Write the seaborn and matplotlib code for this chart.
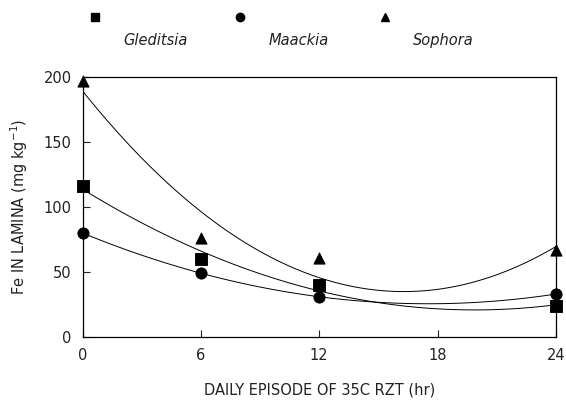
import pandas as pd
import matplotlib.pyplot as plt
from matplotlib.lines import Line2D
import seaborn as sns

hours = [0, 6, 12, 24]
gleditsia = [116, 60, 40, 24]
maackia = [80, 49, 31, 33]
sophora = [197, 76, 61, 67]

species = ['Gleditsia', 'Maackia', 'Sophora']
markers = ['s', 'o', '^']
values = [gleditsia, maackia, sophora]

df = pd.concat([pd.DataFrame({'hr': hours, 'fe': v, 'species': s})
                for s, v in zip(species, values)], ignore_index=True)

sns.set_style('ticks')
plt.rcParams['font.family'] = ['DejaVu Sans']

fig = plt.figure(figsize=(5.66, 4.04), dpi=100)
ax = fig.add_axes([0.146, 0.166, 0.836, 0.643])

for s, m in zip(species, markers):
    sub = df[df['species'] == s]
    sns.regplot(data=sub, x='hr', y='fe', order=2, ci=None, ax=ax,
                scatter=False, truncate=True,
                line_kws={'color': 'black', 'lw': 0.7})
    sns.scatterplot(data=sub, x='hr', y='fe', marker=m, color='black',
                    s=65, edgecolor='black', ax=ax, clip_on=False, zorder=5)

ax.set_xlim(0, 24)
ax.set_ylim(0, 200)
ax.set_xticks([0, 6, 12, 18, 24])
ax.set_yticks([0, 50, 100, 150, 200])
ax.tick_params(direction='in', length=5, width=0.8, labelsize=10.5, pad=8, colors='#222222')
for sp in ax.spines.values():
    sp.set_linewidth(0.9)
    sp.set_color('black')
    sp.set_visible(True)
ax.set_xlabel('DAILY EPISODE OF 35C RZT (hr)', fontsize=10.5, labelpad=14, color='#222222')
ax.set_ylabel('Fe IN LAMINA (mg kg$^{-1}$)', fontsize=10.5, labelpad=10, color='#222222')

# legend: marker above each italic label
for (mx, tx), s, m in zip([(0.168, 0.274), (0.424, 0.527), (0.68, 0.783)], species, markers):
    fig.add_artist(Line2D([mx], [0.957], marker=m, color='black', markersize=6,
                          linestyle='none', transform=fig.transFigure))
    fig.text(tx, 0.9, s, fontsize=10.5, style='italic', ha='center', va='center',
             color='#222222')

fig.savefig('out.png', dpi=100)
